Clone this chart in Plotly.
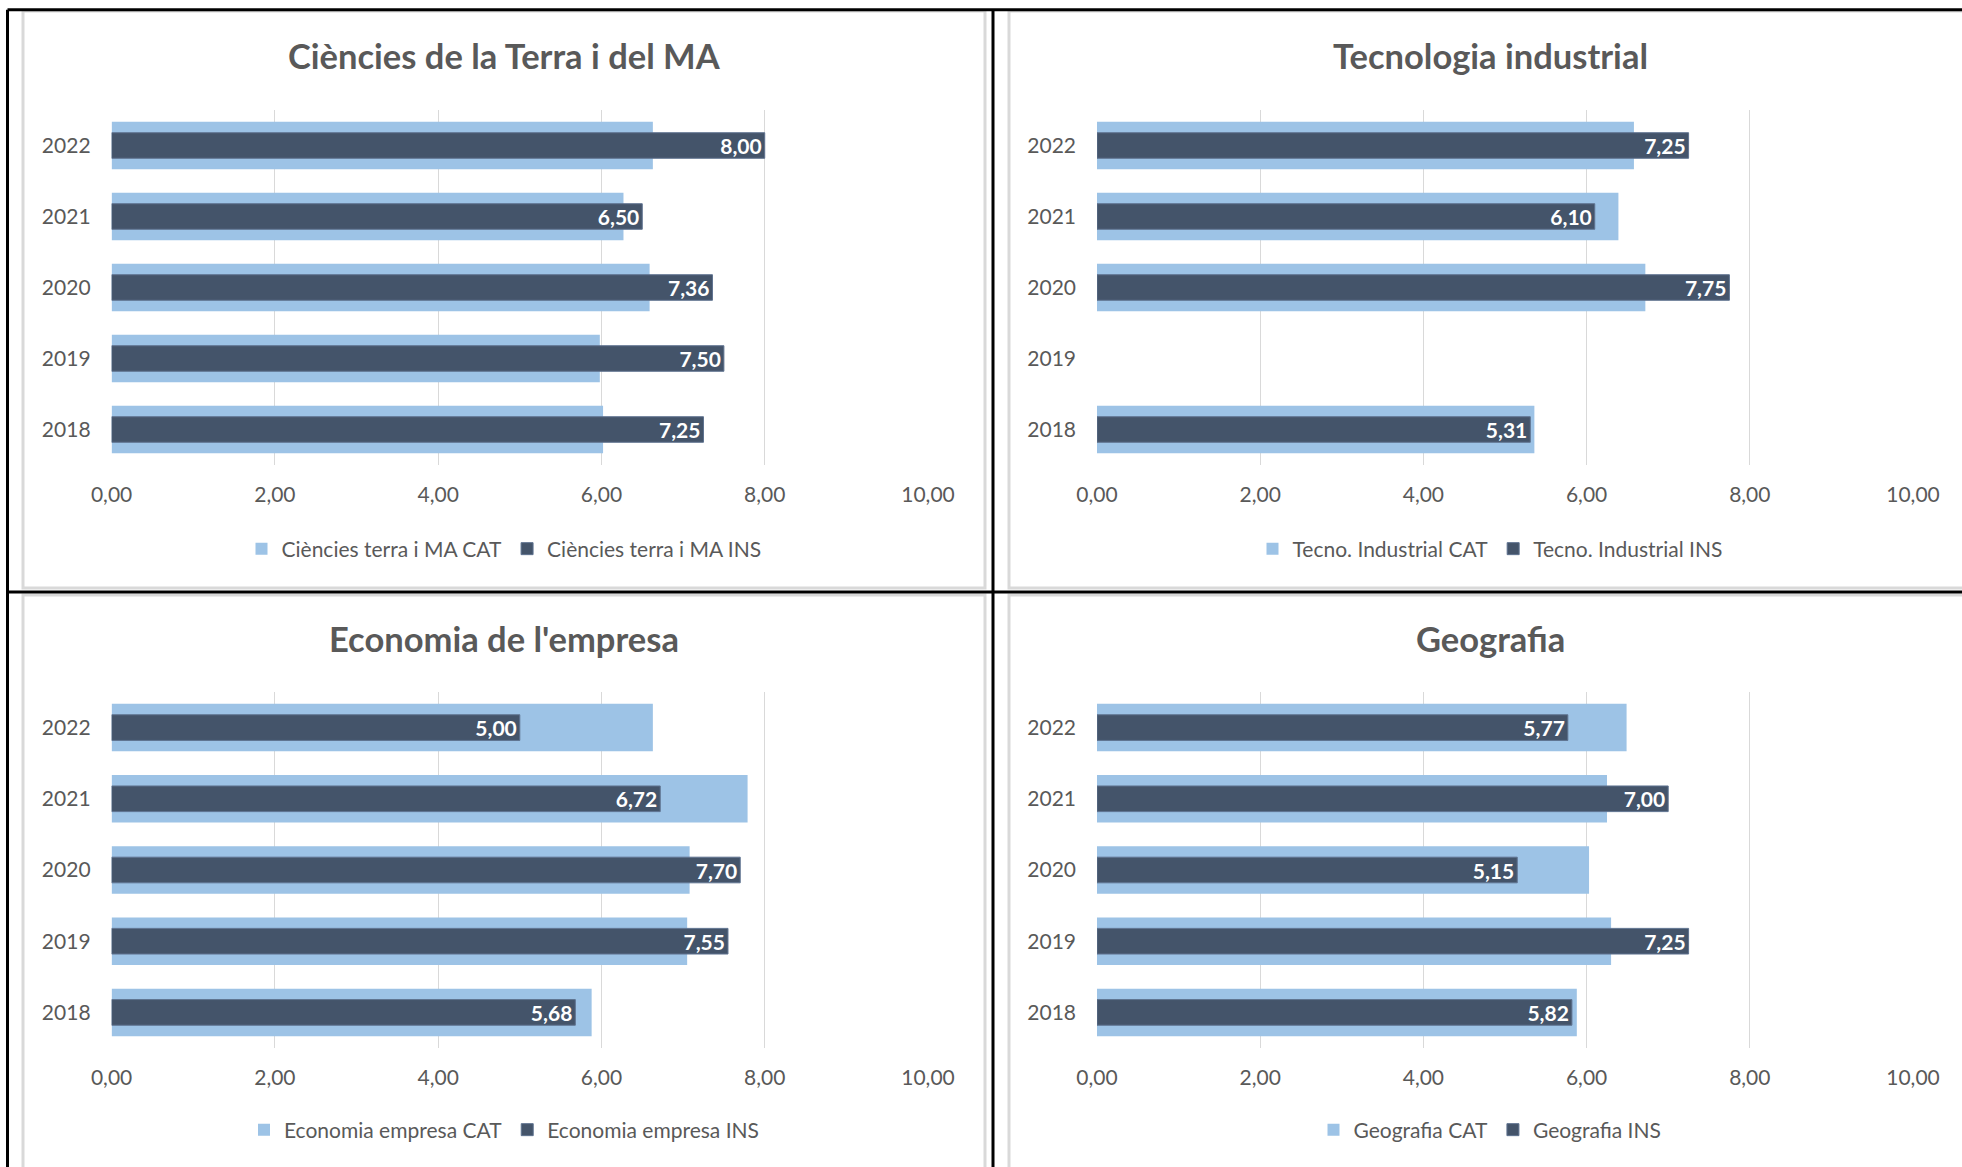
import plotly.graph_objects as go

W, H = 1962, 1167

years = ["2018", "2019", "2020", "2021", "2022"]

titles = ["Ciències de la Terra i del MA", "Tecnologia industrial",
          "Economia de l'empresa", "Geografia"]
cat_names = ["Ciències terra i MA CAT", "Tecno. Industrial CAT",
             "Economia empresa CAT", "Geografia CAT"]
ins_names = ["Ciències terra i MA INS", "Tecno. Industrial INS",
             "Economia empresa INS", "Geografia INS"]

# values listed 2018 -> 2022
terra_cat = [6.02, 5.98, 6.59, 6.27, 6.63]
terra_ins = [7.25, 7.50, 7.36, 6.50, 8.00]
tecno_cat = [5.36, None, 6.72, 6.39, 6.58]
tecno_ins = [5.31, None, 7.75, 6.10, 7.25]
econ_cat = [5.88, 7.05, 7.08, 7.79, 6.63]
econ_ins = [5.68, 7.55, 7.70, 6.72, 5.00]
geo_cat = [5.88, 6.30, 6.03, 6.25, 6.49]
geo_ins = [5.82, 7.25, 5.15, 7.00, 5.77]

x_ticks = [0, 2, 4, 6, 8, 10]

CAT_COLOR = "#9DC3E6"
INS_COLOR = "#44546A"
TEXT = "#595959"
GRID = "#D9D9D9"
FONT = "Lato, 'Open Sans', sans-serif"


def px_x(v):
    return v / W


def px_y(v):
    return 1 - v / H


# pixel geometry of the 2x2 sheet: (plot left, plot right, plot top, plot bottom, chart centre x, title y, legend y)
panels = [
    (111.6, 928, 110, 465, 504, 55, 549),
    (1097, 1913, 110, 465, 1490, 55, 549),
    (111.6, 928, 692, 1048, 504, 638, 1130),
    (1097, 1913, 692, 1048, 1490, 638, 1130),
]
series = [(terra_cat, terra_ins), (tecno_cat, tecno_ins),
          (econ_cat, econ_ins), (geo_cat, geo_ins)]

fig = go.Figure()

for i, ((l, r, t, b, cx, ty, ly), (cat, ins)) in enumerate(zip(panels, series)):
    n = "" if i == 0 else str(i + 1)
    leg = "legend" + n
    fig.add_trace(go.Bar(
        y=years, x=cat, orientation="h", name=cat_names[i], width=0.667,
        marker=dict(color=CAT_COLOR, line=dict(width=0)),
        xaxis="x" + n, yaxis="y" + n, legend=leg, hoverinfo="x+y",
    ))
    fig.add_trace(go.Bar(
        y=years, x=ins, orientation="h", name=ins_names[i], width=0.36,
        marker=dict(color=INS_COLOR, line=dict(width=1, color="#5F7390")),
        texttemplate="%{x:.2f}", textposition="inside", insidetextanchor="end",
        constraintext="none",
        textfont=dict(family=FONT, size=21, color="white", weight="bold"),
        xaxis="x" + n, yaxis="y" + n, legend=leg, hoverinfo="x+y",
    ))
    fig.layout["xaxis" + n] = dict(
        domain=[px_x(l), px_x(r)], range=[0, 10], tickvals=x_ticks, tickformat=".2f",
        anchor="y" + n, showgrid=True, gridcolor=GRID, gridwidth=1.3, zeroline=False,
        showline=False, ticks="", ticklabelstandoff=15, automargin=False,
        tickfont=dict(family=FONT, size=21, color=TEXT), fixedrange=True,
    )
    fig.layout["yaxis" + n] = dict(
        domain=[px_y(b), px_y(t)], type="category", categoryorder="array",
        categoryarray=years, range=[-0.5, 4.5], anchor="x" + n, showgrid=False,
        showline=False, ticks="", ticklabelstandoff=20, automargin=False,
        tickfont=dict(family=FONT, size=21, color=TEXT), fixedrange=True,
    )
    fig.layout[leg] = dict(
        orientation="h", x=px_x(cx), y=px_y(ly), xanchor="center", yanchor="middle",
        font=dict(family=FONT, size=21, color=TEXT), bgcolor="rgba(0,0,0,0)",
        itemwidth=30, traceorder="normal",
    )
    fig.add_annotation(
        x=px_x(cx), y=px_y(ty), xref="paper", yref="paper", text="<b>" + titles[i] + "</b>",
        showarrow=False, xanchor="center", yanchor="middle",
        font=dict(family=FONT, size=34.5, color=TEXT),
    )

# light grey chart-area frames
frames = [(23, 985, 11, 588), (1009, 1975, 11, 588), (23, 985, 595, 1180), (1009, 1975, 595, 1180)]
for x0, x1, y0, y1 in frames:
    fig.add_shape(type="rect", xref="paper", yref="paper",
                  x0=px_x(x0), x1=px_x(x1), y0=px_y(y1), y1=px_y(y0),
                  line=dict(color="#D9D9D9", width=3), layer="below")

# black table lines of the sheet
black = [(7.5, 7.5, 9.7, H), (7.5, W, 9.7, 9.7), (993, 993, 9.7, H), (7.5, W, 592, 592)]
for x0, x1, y0, y1 in black:
    fig.add_shape(type="line", xref="paper", yref="paper",
                  x0=px_x(x0), x1=px_x(x1), y0=px_y(y0), y1=px_y(y1),
                  line=dict(color="black", width=3), layer="above")

fig.update_layout(
    width=W, height=H, margin=dict(l=0, r=0, t=0, b=0, autoexpand=False),
    paper_bgcolor="white", plot_bgcolor="white",
    barmode="overlay", separators=",.", showlegend=True,
    font=dict(family=FONT, color=TEXT),
)

fig.write_html(
    "out.html",
    config={"displayModeBar": False},
    post_script="document.body.style.margin='0';document.body.style.padding='0';"
                "document.body.style.overflow='hidden';",
)
